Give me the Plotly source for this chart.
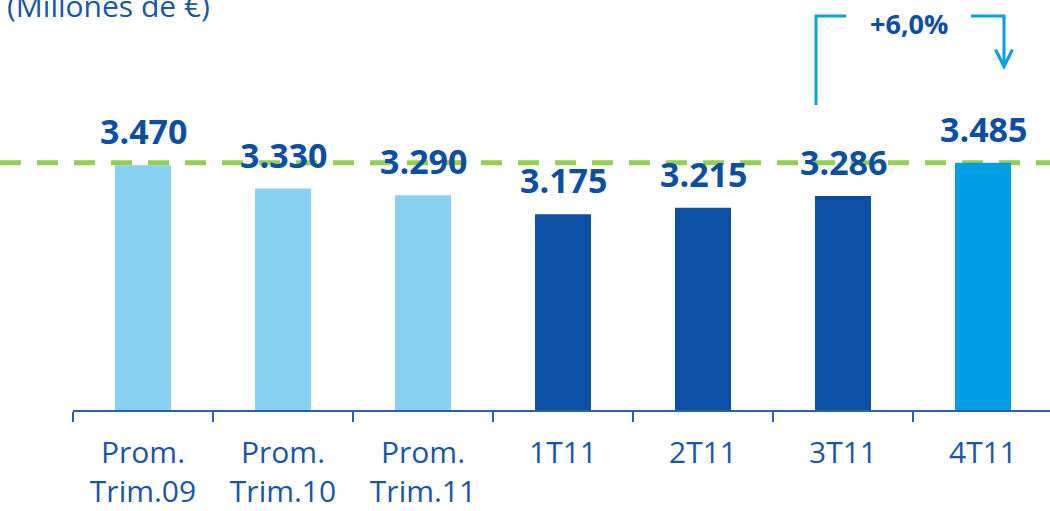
import plotly.graph_objects as go

# ---- data ----
categories = ["Prom.<br>Trim.09", "Prom.<br>Trim.10", "Prom.<br>Trim.11", "1T11", "2T11", "3T11", "4T11"]
values = [3470, 3330, 3290, 3175, 3215, 3286, 3485]
bar_colors = ["#89D1F3", "#89D1F3", "#89D1F3", "#0A4FA3", "#0A4FA3", "#0A4FA3", "#009FE3"]
title_text = "(Millones de €)"
change_text = "+6,0%"

W, H = 1050, 511
ML, MR, MT, MB = 73, 0, 0, 101
PW, PH = W - ML - MR, H - MT - MB

def px(x):  # pixel x -> paper x
    return (x - ML) / PW

def py(y):  # pixel y -> paper y
    return 1 - (y - MT) / PH

DARK = "#0B4EA2"
TXT = "#1A55A5"
ARROW = "#0D9EE0"
FONT = "Open Sans"

fig = go.Figure()
fig.add_trace(go.Bar(
    x=categories, y=values, width=0.4,
    marker=dict(color=bar_colors, line=dict(width=0)),
    hoverinfo="skip", showlegend=False,
))

annotations = []
for c, v in zip(categories, values):
    annotations.append(dict(
        x=c, y=v, xref="x", yref="y", text=f"{v:,}".replace(",", "."),
        showarrow=False, yanchor="bottom", yshift=9,
        font=dict(family=FONT, size=34, color=DARK, weight="bold"),
    ))

# title (partly cut at top)
annotations.append(dict(
    x=px(5), y=py(5), xref="paper", yref="paper", text=title_text,
    showarrow=False, xanchor="left", yanchor="middle",
    font=dict(family=FONT, size=30, color=TXT),
))

# change label
annotations.append(dict(
    x=px(909), y=py(23), xref="paper", yref="paper", text=change_text,
    showarrow=False, xanchor="center", yanchor="middle",
    font=dict(family=FONT, size=27, color=DARK, weight="bold"),
))

# down arrow
annotations.append(dict(
    x=px(1004), y=py(70), xref="paper", yref="paper", text="",
    showarrow=True, ax=0, ay=-54, arrowhead=5, arrowsize=1.1, arrowwidth=3,
    arrowcolor=ARROW, standoff=0,
))

shapes = [
    # reference dashed line at 4T11 level
    dict(type="line", xref="paper", yref="y", x0=px(0), x1=px(W), y0=values[-1], y1=values[-1],
         line=dict(color="#92D050", width=5, dash="21px,16px"), layer="below"),
    # left bracket
    dict(type="path", xref="paper", yref="paper",
         path=f"M{px(816)},{py(105)} L{px(816)},{py(16)} L{px(846)},{py(16)}",
         line=dict(color=ARROW, width=3)),
    # right bracket
    dict(type="path", xref="paper", yref="paper",
         path=f"M{px(971)},{py(16)} L{px(1004)},{py(16)} L{px(1004)},{py(20)}",
         line=dict(color=ARROW, width=3)),
]

fig.update_layout(
    width=W, height=H,
    margin=dict(l=ML, r=MR, t=MT, b=MB, autoexpand=False),
    paper_bgcolor="white", plot_bgcolor="white",
    bargap=0.6,
    annotations=annotations, shapes=shapes,
    xaxis=dict(
        type="category", range=[-0.5, -0.5 + PW / 140], automargin=False,
        showline=True, linecolor="#2E5FA8", linewidth=1.5,
        ticks="outside", tickson="boundaries", ticklen=10, tickcolor="#2E5FA8", tickwidth=1.5,
        tickfont=dict(family=FONT, size=30, color=TXT),
        ticklabelstandoff=15,
        showgrid=False, zeroline=False, fixedrange=True,
    ),
    yaxis=dict(
        range=[2000, 2000 + PH / 0.1665], visible=False, showgrid=False, zeroline=False,
        fixedrange=True, automargin=False,
    ),
)

fig.write_html("out.html", config={"displayModeBar": False},
               post_script="document.body.style.margin='0';document.body.style.overflow='hidden';")
